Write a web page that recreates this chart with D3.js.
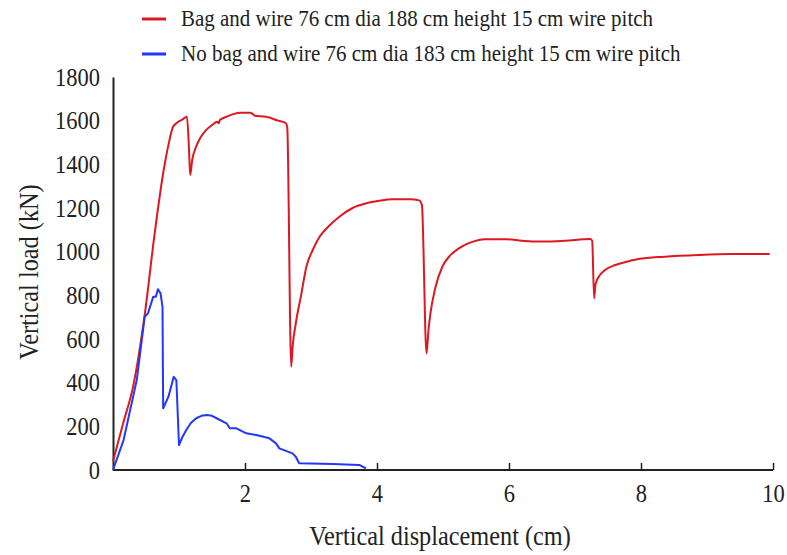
<!DOCTYPE html>
<html>
<head>
<meta charset="utf-8">
<script src="https://cdn.jsdelivr.net/npm/d3@7.9.0/dist/d3.min.js"></script>
<style>
  body { margin: 0; background: #fff; }
  svg text { font-family: "Liberation Serif", "Times New Roman", serif; fill: #222; }
</style>
</head>
<body>
<svg id="chart" width="787" height="555"></svg>
<script>
const bagX = [0, 0.15, 0.31, 0.48, 0.63, 0.76, 0.84, 0.91, 0.99, 1.05, 1.12, 1.15, 1.17, 1.20, 1.26, 1.33, 1.41, 1.50, 1.58, 1.60, 1.62, 1.72, 1.82, 1.95, 2.07, 2.12, 2.15, 2.32, 2.50, 2.62, 2.64, 2.70, 2.72, 2.77, 2.85, 2.93, 3.03, 3.13, 3.28, 3.43, 3.63, 3.83, 4.03, 4.23, 4.50, 4.64, 4.68, 4.75, 4.78, 4.81, 4.88, 4.99, 5.10, 5.24, 5.40, 5.64, 5.95, 6.20, 6.45, 6.85, 7.23, 7.26, 7.29, 7.31, 7.36, 7.45, 7.61, 7.80, 7.96, 8.36, 8.87, 9.37, 9.95];
const bagY = [40, 210, 390, 710, 1080, 1359, 1489, 1572, 1595, 1605, 1618, 1480, 1351, 1420, 1481, 1525, 1557, 1580, 1595, 1588, 1603, 1618, 1630, 1636, 1636, 1630, 1622, 1618, 1600, 1588, 1570, 473, 560, 672, 800, 931, 1010, 1068, 1120, 1160, 1200, 1221, 1233, 1240, 1240, 1235, 1215, 534, 640, 718, 830, 931, 980, 1015, 1040, 1057, 1057, 1050, 1046, 1050, 1058, 1050, 786, 850, 885, 915, 939, 955, 966, 977, 985, 989, 989];

const noBagX = [0, 0.16, 0.36, 0.48, 0.53, 0.61, 0.65, 0.68, 0.72, 0.75, 0.76, 0.84, 0.92, 0.96, 1.0, 1.05, 1.11, 1.18, 1.26, 1.34, 1.42, 1.50, 1.57, 1.72, 1.77, 1.87, 2.02, 2.17, 2.37, 2.47, 2.52, 2.72, 2.77, 2.82, 3.33, 3.73, 3.83];
const noBagY = [0, 137, 412, 702, 718, 794, 794, 828, 809, 748, 283, 336, 427, 412, 114, 150, 183, 215, 237, 248, 252, 248, 237, 214, 191, 191, 168, 160, 145, 122, 99, 76, 61, 31, 27, 23, 8];

const xTicks = [2, 4, 6, 8, 10];
const yTicks = [0, 200, 400, 600, 800, 1000, 1200, 1400, 1600, 1800];

const legendLabels = [
  'Bag and wire 76 cm dia 188 cm height 15 cm wire pitch',
  'No bag and wire 76 cm dia 183 cm height 15 cm wire pitch'
];
const colors = ['#dc1820', '#2336ff'];

const svg = d3.select('#chart');

const x = d3.scaleLinear().domain([0, 10]).range([113, 773]);
const y = d3.scaleLinear().domain([0, 1800]).range([470, 77]);

// axes
const xAxis = svg.append('g')
    .attr('transform', `translate(0,${y(0)})`)
    .call(d3.axisBottom(x).tickValues(xTicks).tickSize(-7).tickFormat(d3.format('d')));
xAxis.select('.domain').attr('d', `M${x(0)},0H${x(10)}`).attr('stroke', '#222').attr('stroke-width', 2);
xAxis.selectAll('.tick line').attr('stroke', '#222').attr('stroke-width', 1.5);
xAxis.selectAll('.tick text')
    .attr('font-size', 22.5)
    .attr('y', 0).attr('dy', 0)
    .attr('transform', 'translate(0,32) scale(1,1.15)');

const yAxis = svg.append('g')
    .attr('transform', `translate(${x(0)},0)`)
    .call(d3.axisLeft(y).tickValues(yTicks).tickSize(0).tickPadding(13).tickFormat(d3.format('d')));
yAxis.select('.domain').attr('stroke', '#222').attr('stroke-width', 2);
yAxis.selectAll('.tick text')
    .attr('font-size', 22.5)
    .attr('dy', 0)
    .attr('transform', 'translate(0,8) scale(1,1.12)');

svg.append('text')
    .attr('transform', 'translate(440,545) scale(1,1.15)')
    .attr('text-anchor', 'middle')
    .attr('font-size', 24.3)
    .text('Vertical displacement (cm)');

svg.append('text')
    .attr('transform', 'translate(38,272) rotate(-90) scale(1,1.15)')
    .attr('text-anchor', 'middle')
    .attr('font-size', 24.3)
    .text('Vertical load (kN)');

// lines - red is smooth, blue keeps its sharp steps
const curves = [d3.curveMonotoneX, d3.curveLinear];
const series = [d3.zip(bagX, bagY), d3.zip(noBagX, noBagY)];

series.forEach((pts, i) => {
  const line = d3.line().x(d => x(d[0])).y(d => y(d[1])).curve(curves[i]);
  svg.append('path')
      .datum(pts)
      .attr('d', line)
      .attr('fill', 'none')
      .attr('stroke', colors[i])
      .attr('stroke-width', 2)
      .attr('stroke-linejoin', 'round');
});

// legend
legendLabels.forEach((label, i) => {
  const ly = 19 + i * 35;
  svg.append('line')
      .attr('x1', 142).attr('x2', 166)
      .attr('y1', ly).attr('y2', ly)
      .attr('stroke', colors[i])
      .attr('stroke-width', 3);
  svg.append('text')
      .attr('transform', `translate(181,${ly + 7}) scale(1,1.12)`)
      .attr('font-size', 21)
      .text(label);
});
</script>
</body>
</html>
